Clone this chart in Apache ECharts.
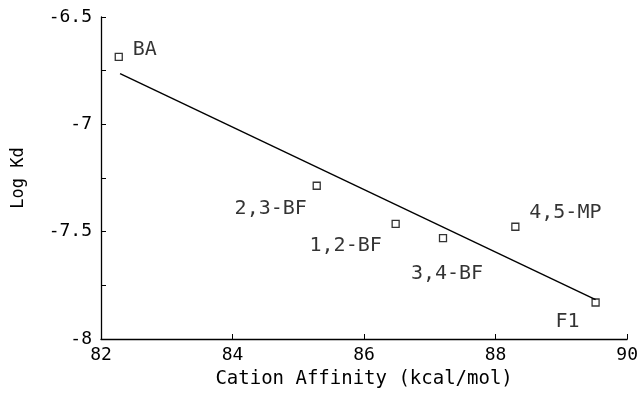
<!DOCTYPE html>
<html>
<head>
<meta charset="utf-8">
<script src="https://cdn.jsdelivr.net/npm/echarts@6/dist/echarts.min.js"></script>
<style>
  html, body { margin: 0; padding: 0; background: #fff; }
  #chart { width: 641px; height: 394px; }
</style>
</head>
<body>
<div id="chart"></div>
<script>
// compounds and their measured values
const names = ["BA", "2,3-BF", "1,2-BF", "3,4-BF", "4,5-MP", "F1"];
const cationAffinity = [82.27, 85.28, 86.48, 87.2, 88.3, 89.52];
const logKd = [-6.686, -7.286, -7.464, -7.53, -7.477, -7.83];

// fitted line end points
const fitX = [82.29, 89.52];
const fitY = [-6.764, -7.817];

const xTicks = [82, 84, 86, 88, 90];
const yTicks = [-8, -7.5, -7, -6.5];

// where each label sits relative to its point (px)
const labelOffsets = {
  "BA": [26, -7],
  "2,3-BF": [-46, 23],
  "1,2-BF": [-50, 22],
  "3,4-BF": [4, 36],
  "4,5-MP": [50, -14],
  "F1": [-28, 19]
};

const font = "'DejaVu Sans Mono', monospace";

const chart = echarts.init(document.getElementById("chart"));

chart.setOption({
  animation: false,
  backgroundColor: "#fff",
  grid: { left: 101, right: 11, top: 17, bottom: 47 },
  xAxis: {
    type: "value",
    min: xTicks[0],
    max: xTicks[xTicks.length - 1],
    interval: 2,
    name: "Cation Affinity (kcal/mol)",
    nameLocation: "middle",
    nameGap: 31,
    nameTextStyle: { fontFamily: font, fontSize: 19, color: "#000" },
    axisLine: { onZero: false, lineStyle: { color: "#000", width: 1.3 } },
    axisTick: { inside: true, length: 5, lineStyle: { color: "#000" } },
    axisLabel: { fontFamily: font, fontSize: 18, color: "#000", margin: 7 },
    splitLine: { show: false }
  },
  yAxis: {
    type: "value",
    min: yTicks[0],
    max: yTicks[yTicks.length - 1],
    interval: 0.5,
    name: "Log Kd",
    nameLocation: "middle",
    nameGap: 74,
    nameTextStyle: { fontFamily: font, fontSize: 17, color: "#000" },
    axisLine: { onZero: false, lineStyle: { color: "#000", width: 1.3 } },
    axisTick: { inside: true, length: 5, lineStyle: { color: "#000" } },
    minorTick: { show: true, splitNumber: 2, length: 5, lineStyle: { color: "#000" } },
    axisLabel: { fontFamily: font, fontSize: 18, color: "#000", margin: 9 },
    splitLine: { show: false }
  },
  series: [
    {
      type: "line",
      data: fitX.map((x, i) => [x, fitY[i]]),
      showSymbol: false,
      lineStyle: { color: "#000", width: 1.4 },
      silent: true
    },
    {
      type: "scatter",
      symbol: "rect",
      symbolSize: 7,
      itemStyle: { color: "#fff", borderColor: "#000", borderWidth: 1.3 },
      data: names.map((n, i) => ({
        name: n,
        value: [cationAffinity[i], logKd[i]],
        label: { offset: labelOffsets[n] }
      })),
      label: {
        show: true,
        position: "inside",
        formatter: "{b}",
        fontFamily: font,
        fontSize: 20,
        color: "#000",
        textBorderWidth: 0
      }
    }
  ]
});
</script>
</body>
</html>
